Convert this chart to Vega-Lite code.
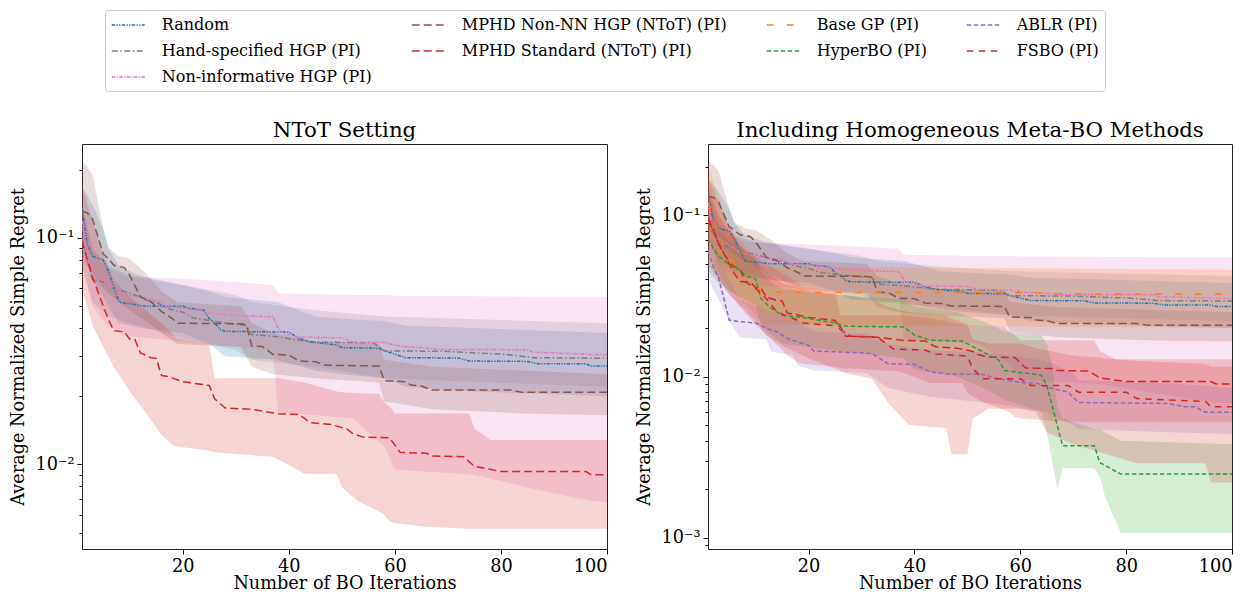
{
"$schema": "https://vega.github.io/schema/vega-lite/v6.json",
"background": "white",
"padding": {"left": 8, "top": 9, "right": 5, "bottom": 2},
"config": {
  "font": "DejaVu Serif",
  "style": {"guide-label": {"font": "DejaVu Serif"}, "guide-title": {"font": "DejaVu Serif"}},
  "text": {"font": "DejaVu Serif"},
  "view": {"stroke": "#222222", "strokeWidth": 1},
  "axis": {"labelFont": "DejaVu Serif", "titleFont": "DejaVu Serif", "labelFontSize": 17.7, "titleFontSize": 17.7, "titleFontWeight": "normal", "labelColor": "black", "titleColor": "black", "tickColor": "black", "domain": false, "grid": false, "tickSize": 5, "labelPadding": 3, "labelOverlap": false, "labelBound": false},
  "title": {"font": "DejaVu Serif", "fontSize": 21.3, "fontWeight": "normal", "color": "black", "offset": 3, "anchor": "middle"},
  "legend": {"labelFont": "DejaVu Serif", "labelFontSize": 16, "labelColor": "black", "labelOffset": 24.5, "rowPadding": 9, "columnPadding": 36, "padding": 6, "symbolOffset": 8.25, "strokeColor": "#cccccc", "cornerRadius": 3, "fillColor": "white", "labelLimit": 500, "gridAlign": "each"}
},
"spacing": 101,
"bounds": "flush",
"resolve": {"scale": {"color": "shared", "strokeDash": "shared", "fill": "shared"}, "legend": {"color": "shared", "strokeDash": "shared"}},
"datasets": {
"lines": [
{"s":"Random","x":1,"y":0.136},{"s":"Random","x":2,"y":0.094},{"s":"Random","x":3,"y":0.083},{"s":"Random","x":5,"y":0.080},{"s":"Random","x":6,"y":0.071},{"s":"Random","x":8,"y":0.052},{"s":"Random","x":13,"y":0.050},{"s":"Random","x":20,"y":0.050},{"s":"Random","x":21,"y":0.049},{"s":"Random","x":24,"y":0.048},{"s":"Random","x":25,"y":0.044},{"s":"Random","x":26,"y":0.0423},{"s":"Random","x":27,"y":0.0395},{"s":"Random","x":28,"y":0.0387},{"s":"Random","x":40,"y":0.0384},{"s":"Random","x":42,"y":0.036},{"s":"Random","x":44,"y":0.0347},{"s":"Random","x":49,"y":0.0337},{"s":"Random","x":50,"y":0.0328},{"s":"Random","x":57,"y":0.0326},{"s":"Random","x":58,"y":0.0318},{"s":"Random","x":62,"y":0.0296},{"s":"Random","x":72,"y":0.0295},{"s":"Random","x":74,"y":0.0286},{"s":"Random","x":85,"y":0.0285},{"s":"Random","x":87,"y":0.0278},{"s":"Random","x":96,"y":0.0278},{"s":"Random","x":97,"y":0.0272},{"s":"Random","x":100,"y":0.0272},
{"s":"Hand-specified HGP (PI)","x":1,"y":0.10},{"s":"Hand-specified HGP (PI)","x":2,"y":0.08},{"s":"Hand-specified HGP (PI)","x":3,"y":0.0652},{"s":"Hand-specified HGP (PI)","x":5,"y":0.064},{"s":"Hand-specified HGP (PI)","x":7,"y":0.059},{"s":"Hand-specified HGP (PI)","x":9,"y":0.058},{"s":"Hand-specified HGP (PI)","x":11,"y":0.056},{"s":"Hand-specified HGP (PI)","x":13,"y":0.0532},{"s":"Hand-specified HGP (PI)","x":15,"y":0.052},{"s":"Hand-specified HGP (PI)","x":17,"y":0.049},{"s":"Hand-specified HGP (PI)","x":18,"y":0.0482},{"s":"Hand-specified HGP (PI)","x":20,"y":0.047},{"s":"Hand-specified HGP (PI)","x":22,"y":0.0443},{"s":"Hand-specified HGP (PI)","x":26,"y":0.0428},{"s":"Hand-specified HGP (PI)","x":32,"y":0.041},{"s":"Hand-specified HGP (PI)","x":33,"y":0.0374},{"s":"Hand-specified HGP (PI)","x":38,"y":0.0366},{"s":"Hand-specified HGP (PI)","x":41,"y":0.0356},{"s":"Hand-specified HGP (PI)","x":45,"y":0.0347},{"s":"Hand-specified HGP (PI)","x":56,"y":0.0344},{"s":"Hand-specified HGP (PI)","x":58,"y":0.0317},{"s":"Hand-specified HGP (PI)","x":69,"y":0.0316},{"s":"Hand-specified HGP (PI)","x":81,"y":0.0306},{"s":"Hand-specified HGP (PI)","x":86,"y":0.0296},{"s":"Hand-specified HGP (PI)","x":100,"y":0.0294},
{"s":"Non-informative HGP (PI)","x":1,"y":0.119},{"s":"Non-informative HGP (PI)","x":2,"y":0.08},{"s":"Non-informative HGP (PI)","x":3,"y":0.072},{"s":"Non-informative HGP (PI)","x":5,"y":0.065},{"s":"Non-informative HGP (PI)","x":7,"y":0.059},{"s":"Non-informative HGP (PI)","x":11,"y":0.055},{"s":"Non-informative HGP (PI)","x":15,"y":0.0532},{"s":"Non-informative HGP (PI)","x":17,"y":0.0498},{"s":"Non-informative HGP (PI)","x":22,"y":0.0482},{"s":"Non-informative HGP (PI)","x":26,"y":0.0463},{"s":"Non-informative HGP (PI)","x":29,"y":0.0456},{"s":"Non-informative HGP (PI)","x":37,"y":0.0448},{"s":"Non-informative HGP (PI)","x":38,"y":0.04},{"s":"Non-informative HGP (PI)","x":39,"y":0.0378},{"s":"Non-informative HGP (PI)","x":42,"y":0.0365},{"s":"Non-informative HGP (PI)","x":50,"y":0.0362},{"s":"Non-informative HGP (PI)","x":52,"y":0.0347},{"s":"Non-informative HGP (PI)","x":58,"y":0.0345},{"s":"Non-informative HGP (PI)","x":61,"y":0.0333},{"s":"Non-informative HGP (PI)","x":69,"y":0.0322},{"s":"Non-informative HGP (PI)","x":85,"y":0.0321},{"s":"Non-informative HGP (PI)","x":86,"y":0.0313},{"s":"Non-informative HGP (PI)","x":97,"y":0.0306},{"s":"Non-informative HGP (PI)","x":100,"y":0.0305},
{"s":"MPHD Non-NN HGP (NToT) (PI)","x":1,"y":0.1315},{"s":"MPHD Non-NN HGP (NToT) (PI)","x":2,"y":0.129},{"s":"MPHD Non-NN HGP (NToT) (PI)","x":3,"y":0.121},{"s":"MPHD Non-NN HGP (NToT) (PI)","x":5,"y":0.085},{"s":"MPHD Non-NN HGP (NToT) (PI)","x":6,"y":0.081},{"s":"MPHD Non-NN HGP (NToT) (PI)","x":7,"y":0.0757},{"s":"MPHD Non-NN HGP (NToT) (PI)","x":9,"y":0.074},{"s":"MPHD Non-NN HGP (NToT) (PI)","x":10,"y":0.0684},{"s":"MPHD Non-NN HGP (NToT) (PI)","x":12,"y":0.055},{"s":"MPHD Non-NN HGP (NToT) (PI)","x":14,"y":0.0523},{"s":"MPHD Non-NN HGP (NToT) (PI)","x":16,"y":0.0473},{"s":"MPHD Non-NN HGP (NToT) (PI)","x":18,"y":0.0442},{"s":"MPHD Non-NN HGP (NToT) (PI)","x":19,"y":0.042},{"s":"MPHD Non-NN HGP (NToT) (PI)","x":31,"y":0.0418},{"s":"MPHD Non-NN HGP (NToT) (PI)","x":32,"y":0.0414},{"s":"MPHD Non-NN HGP (NToT) (PI)","x":33,"y":0.0333},{"s":"MPHD Non-NN HGP (NToT) (PI)","x":35,"y":0.0332},{"s":"MPHD Non-NN HGP (NToT) (PI)","x":37,"y":0.0306},{"s":"MPHD Non-NN HGP (NToT) (PI)","x":40,"y":0.0304},{"s":"MPHD Non-NN HGP (NToT) (PI)","x":42,"y":0.0286},{"s":"MPHD Non-NN HGP (NToT) (PI)","x":45,"y":0.0284},{"s":"MPHD Non-NN HGP (NToT) (PI)","x":47,"y":0.0274},{"s":"MPHD Non-NN HGP (NToT) (PI)","x":57,"y":0.0272},{"s":"MPHD Non-NN HGP (NToT) (PI)","x":58,"y":0.0234},{"s":"MPHD Non-NN HGP (NToT) (PI)","x":62,"y":0.0232},{"s":"MPHD Non-NN HGP (NToT) (PI)","x":63,"y":0.0224},{"s":"MPHD Non-NN HGP (NToT) (PI)","x":65,"y":0.0222},{"s":"MPHD Non-NN HGP (NToT) (PI)","x":67,"y":0.0213},{"s":"MPHD Non-NN HGP (NToT) (PI)","x":82,"y":0.0213},{"s":"MPHD Non-NN HGP (NToT) (PI)","x":84,"y":0.0208},{"s":"MPHD Non-NN HGP (NToT) (PI)","x":100,"y":0.0208},
{"s":"MPHD Standard (NToT) (PI)","x":1,"y":0.097},{"s":"MPHD Standard (NToT) (PI)","x":3,"y":0.067},{"s":"MPHD Standard (NToT) (PI)","x":5,"y":0.050},{"s":"MPHD Standard (NToT) (PI)","x":6,"y":0.0435},{"s":"MPHD Standard (NToT) (PI)","x":7,"y":0.0389},{"s":"MPHD Standard (NToT) (PI)","x":9,"y":0.0385},{"s":"MPHD Standard (NToT) (PI)","x":10,"y":0.0357},{"s":"MPHD Standard (NToT) (PI)","x":11,"y":0.0355},{"s":"MPHD Standard (NToT) (PI)","x":12,"y":0.0311},{"s":"MPHD Standard (NToT) (PI)","x":14,"y":0.0296},{"s":"MPHD Standard (NToT) (PI)","x":15,"y":0.0294},{"s":"MPHD Standard (NToT) (PI)","x":16,"y":0.0247},{"s":"MPHD Standard (NToT) (PI)","x":17,"y":0.0245},{"s":"MPHD Standard (NToT) (PI)","x":20,"y":0.0232},{"s":"MPHD Standard (NToT) (PI)","x":25,"y":0.0223},{"s":"MPHD Standard (NToT) (PI)","x":26,"y":0.0195},{"s":"MPHD Standard (NToT) (PI)","x":28,"y":0.01775},{"s":"MPHD Standard (NToT) (PI)","x":33,"y":0.0175},{"s":"MPHD Standard (NToT) (PI)","x":38,"y":0.01675},{"s":"MPHD Standard (NToT) (PI)","x":42,"y":0.0166},{"s":"MPHD Standard (NToT) (PI)","x":44,"y":0.0153},{"s":"MPHD Standard (NToT) (PI)","x":48,"y":0.015},{"s":"MPHD Standard (NToT) (PI)","x":51,"y":0.0143},{"s":"MPHD Standard (NToT) (PI)","x":52,"y":0.0137},{"s":"MPHD Standard (NToT) (PI)","x":54,"y":0.0132},{"s":"MPHD Standard (NToT) (PI)","x":59,"y":0.0131},{"s":"MPHD Standard (NToT) (PI)","x":61,"y":0.0113},{"s":"MPHD Standard (NToT) (PI)","x":66,"y":0.0112},{"s":"MPHD Standard (NToT) (PI)","x":67,"y":0.0109},{"s":"MPHD Standard (NToT) (PI)","x":73,"y":0.0108},{"s":"MPHD Standard (NToT) (PI)","x":75,"y":0.0098},{"s":"MPHD Standard (NToT) (PI)","x":77,"y":0.0096},{"s":"MPHD Standard (NToT) (PI)","x":80,"y":0.0093},{"s":"MPHD Standard (NToT) (PI)","x":96,"y":0.0093},{"s":"MPHD Standard (NToT) (PI)","x":97,"y":0.0090},{"s":"MPHD Standard (NToT) (PI)","x":100,"y":0.0090},
{"s":"Base GP (PI)","x":1,"y":0.12},{"s":"Base GP (PI)","x":2,"y":0.10},{"s":"Base GP (PI)","x":3,"y":0.075},{"s":"Base GP (PI)","x":4,"y":0.065},{"s":"Base GP (PI)","x":5,"y":0.057},{"s":"Base GP (PI)","x":7,"y":0.0448},{"s":"Base GP (PI)","x":9,"y":0.0398},{"s":"Base GP (PI)","x":11,"y":0.0336},{"s":"Base GP (PI)","x":12,"y":0.0333},{"s":"Base GP (PI)","x":66,"y":0.0331},{"s":"Base GP (PI)","x":67,"y":0.0326},{"s":"Base GP (PI)","x":100,"y":0.0324},
{"s":"HyperBO (PI)","x":1,"y":0.072},{"s":"HyperBO (PI)","x":2,"y":0.062},{"s":"HyperBO (PI)","x":3,"y":0.056},{"s":"HyperBO (PI)","x":5,"y":0.0493},{"s":"HyperBO (PI)","x":7,"y":0.0459},{"s":"HyperBO (PI)","x":8,"y":0.0423},{"s":"HyperBO (PI)","x":10,"y":0.0403},{"s":"HyperBO (PI)","x":11,"y":0.0305},{"s":"HyperBO (PI)","x":13,"y":0.0264},{"s":"HyperBO (PI)","x":15,"y":0.024},{"s":"HyperBO (PI)","x":19,"y":0.0232},{"s":"HyperBO (PI)","x":25,"y":0.0215},{"s":"HyperBO (PI)","x":27,"y":0.0205},{"s":"HyperBO (PI)","x":38,"y":0.0203},{"s":"HyperBO (PI)","x":40,"y":0.0181},{"s":"HyperBO (PI)","x":43,"y":0.0168},{"s":"HyperBO (PI)","x":49,"y":0.0166},{"s":"HyperBO (PI)","x":53,"y":0.0142},{"s":"HyperBO (PI)","x":56,"y":0.0126},{"s":"HyperBO (PI)","x":57,"y":0.0109},{"s":"HyperBO (PI)","x":64,"y":0.0102},{"s":"HyperBO (PI)","x":65,"y":0.0088},{"s":"HyperBO (PI)","x":68,"y":0.00372},{"s":"HyperBO (PI)","x":74,"y":0.00372},{"s":"HyperBO (PI)","x":75,"y":0.00293},{"s":"HyperBO (PI)","x":79,"y":0.00248},{"s":"HyperBO (PI)","x":100,"y":0.00248},
{"s":"ABLR (PI)","x":1,"y":0.06},{"s":"ABLR (PI)","x":2,"y":0.048},{"s":"ABLR (PI)","x":3,"y":0.0407},{"s":"ABLR (PI)","x":4,"y":0.0305},{"s":"ABLR (PI)","x":5,"y":0.0224},{"s":"ABLR (PI)","x":7,"y":0.0219},{"s":"ABLR (PI)","x":10,"y":0.0215},{"s":"ABLR (PI)","x":12,"y":0.0199},{"s":"ABLR (PI)","x":14,"y":0.019},{"s":"ABLR (PI)","x":16,"y":0.0172},{"s":"ABLR (PI)","x":20,"y":0.0156},{"s":"ABLR (PI)","x":21,"y":0.0144},{"s":"ABLR (PI)","x":26,"y":0.0142},{"s":"ABLR (PI)","x":32,"y":0.0139},{"s":"ABLR (PI)","x":35,"y":0.012},{"s":"ABLR (PI)","x":40,"y":0.0119},{"s":"ABLR (PI)","x":43,"y":0.0107},{"s":"ABLR (PI)","x":46,"y":0.0104},{"s":"ABLR (PI)","x":53,"y":0.0103},{"s":"ABLR (PI)","x":55,"y":0.0098},{"s":"ABLR (PI)","x":60,"y":0.0092},{"s":"ABLR (PI)","x":63,"y":0.0091},{"s":"ABLR (PI)","x":65,"y":0.0086},{"s":"ABLR (PI)","x":69,"y":0.0080},{"s":"ABLR (PI)","x":71,"y":0.0069},{"s":"ABLR (PI)","x":88,"y":0.0068},{"s":"ABLR (PI)","x":91,"y":0.0065},{"s":"ABLR (PI)","x":93,"y":0.0065},{"s":"ABLR (PI)","x":95,"y":0.0060},{"s":"ABLR (PI)","x":100,"y":0.0060},
{"s":"FSBO (PI)","x":1,"y":0.09},{"s":"FSBO (PI)","x":2,"y":0.083},{"s":"FSBO (PI)","x":3,"y":0.066},{"s":"FSBO (PI)","x":4,"y":0.058},{"s":"FSBO (PI)","x":5,"y":0.0516},{"s":"FSBO (PI)","x":6,"y":0.048},{"s":"FSBO (PI)","x":7,"y":0.047},{"s":"FSBO (PI)","x":8,"y":0.0388},{"s":"FSBO (PI)","x":10,"y":0.0352},{"s":"FSBO (PI)","x":12,"y":0.0305},{"s":"FSBO (PI)","x":14,"y":0.0252},{"s":"FSBO (PI)","x":17,"y":0.023},{"s":"FSBO (PI)","x":19,"y":0.0215},{"s":"FSBO (PI)","x":26,"y":0.0205},{"s":"FSBO (PI)","x":27,"y":0.0178},{"s":"FSBO (PI)","x":33,"y":0.0176},{"s":"FSBO (PI)","x":36,"y":0.0148},{"s":"FSBO (PI)","x":42,"y":0.0146},{"s":"FSBO (PI)","x":44,"y":0.0138},{"s":"FSBO (PI)","x":50,"y":0.0134},{"s":"FSBO (PI)","x":51,"y":0.0112},{"s":"FSBO (PI)","x":53,"y":0.0097},{"s":"FSBO (PI)","x":60,"y":0.0097},{"s":"FSBO (PI)","x":62,"y":0.0088},{"s":"FSBO (PI)","x":69,"y":0.0088},{"s":"FSBO (PI)","x":71,"y":0.0080},{"s":"FSBO (PI)","x":80,"y":0.0080},{"s":"FSBO (PI)","x":82,"y":0.0073},{"s":"FSBO (PI)","x":95,"y":0.0070},{"s":"FSBO (PI)","x":96,"y":0.0065},{"s":"FSBO (PI)","x":100,"y":0.0065}
],
"bands": [
{"s":"Random","x":1,"hi":0.17,"lo":0.09},{"s":"Random","x":3,"hi":0.14,"lo":0.065},{"s":"Random","x":5,"hi":0.11,"lo":0.055},{"s":"Random","x":6,"hi":0.09,"lo":0.05},{"s":"Random","x":8,"hi":0.075,"lo":0.042},{"s":"Random","x":12,"hi":0.068,"lo":0.04},{"s":"Random","x":20,"hi":0.062,"lo":0.038},{"s":"Random","x":25,"hi":0.058,"lo":0.034},{"s":"Random","x":28,"hi":0.055,"lo":0.03},{"s":"Random","x":38,"hi":0.052,"lo":0.029},{"s":"Random","x":40,"hi":0.05,"lo":0.028},{"s":"Random","x":45,"hi":0.045,"lo":0.026},{"s":"Random","x":50,"hi":0.044,"lo":0.025},{"s":"Random","x":58,"hi":0.043,"lo":0.024},{"s":"Random","x":62,"hi":0.041,"lo":0.022},{"s":"Random","x":75,"hi":0.04,"lo":0.021},{"s":"Random","x":87,"hi":0.039,"lo":0.0205},{"s":"Random","x":100,"hi":0.038,"lo":0.02},
{"s":"Hand-specified HGP (PI)","x":1,"hi":0.14,"lo":0.075},{"s":"Hand-specified HGP (PI)","x":3,"hi":0.09,"lo":0.052},{"s":"Hand-specified HGP (PI)","x":6,"hi":0.075,"lo":0.045},{"s":"Hand-specified HGP (PI)","x":10,"hi":0.068,"lo":0.042},{"s":"Hand-specified HGP (PI)","x":20,"hi":0.062,"lo":0.036},{"s":"Hand-specified HGP (PI)","x":30,"hi":0.056,"lo":0.032},{"s":"Hand-specified HGP (PI)","x":33,"hi":0.052,"lo":0.029},{"s":"Hand-specified HGP (PI)","x":45,"hi":0.048,"lo":0.027},{"s":"Hand-specified HGP (PI)","x":58,"hi":0.045,"lo":0.024},{"s":"Hand-specified HGP (PI)","x":100,"hi":0.042,"lo":0.022},
{"s":"Non-informative HGP (PI)","x":1,"hi":0.14,"lo":0.075},{"s":"Non-informative HGP (PI)","x":3,"hi":0.09,"lo":0.05},{"s":"Non-informative HGP (PI)","x":5,"hi":0.075,"lo":0.043},{"s":"Non-informative HGP (PI)","x":9,"hi":0.068,"lo":0.037},{"s":"Non-informative HGP (PI)","x":25,"hi":0.065,"lo":0.034},{"s":"Non-informative HGP (PI)","x":37,"hi":0.062,"lo":0.032},{"s":"Non-informative HGP (PI)","x":38,"hi":0.057,"lo":0.017},{"s":"Non-informative HGP (PI)","x":52,"hi":0.056,"lo":0.016},{"s":"Non-informative HGP (PI)","x":58,"hi":0.056,"lo":0.012},{"s":"Non-informative HGP (PI)","x":60,"hi":0.0555,"lo":0.0095},{"s":"Non-informative HGP (PI)","x":75,"hi":0.0553,"lo":0.009},{"s":"Non-informative HGP (PI)","x":86,"hi":0.055,"lo":0.0078},{"s":"Non-informative HGP (PI)","x":97,"hi":0.055,"lo":0.0069},{"s":"Non-informative HGP (PI)","x":100,"hi":0.055,"lo":0.0068},
{"s":"MPHD Non-NN HGP (NToT) (PI)","x":1,"hi":0.22,"lo":0.08},{"s":"MPHD Non-NN HGP (NToT) (PI)","x":3,"hi":0.19,"lo":0.07},{"s":"MPHD Non-NN HGP (NToT) (PI)","x":5,"hi":0.11,"lo":0.06},{"s":"MPHD Non-NN HGP (NToT) (PI)","x":6,"hi":0.09,"lo":0.057},{"s":"MPHD Non-NN HGP (NToT) (PI)","x":8,"hi":0.083,"lo":0.052},{"s":"MPHD Non-NN HGP (NToT) (PI)","x":10,"hi":0.081,"lo":0.048},{"s":"MPHD Non-NN HGP (NToT) (PI)","x":13,"hi":0.07,"lo":0.043},{"s":"MPHD Non-NN HGP (NToT) (PI)","x":16,"hi":0.058,"lo":0.038},{"s":"MPHD Non-NN HGP (NToT) (PI)","x":19,"hi":0.052,"lo":0.034},{"s":"MPHD Non-NN HGP (NToT) (PI)","x":31,"hi":0.05,"lo":0.033},{"s":"MPHD Non-NN HGP (NToT) (PI)","x":33,"hi":0.042,"lo":0.027},{"s":"MPHD Non-NN HGP (NToT) (PI)","x":37,"hi":0.038,"lo":0.025},{"s":"MPHD Non-NN HGP (NToT) (PI)","x":45,"hi":0.035,"lo":0.024},{"s":"MPHD Non-NN HGP (NToT) (PI)","x":57,"hi":0.034,"lo":0.023},{"s":"MPHD Non-NN HGP (NToT) (PI)","x":58,"hi":0.029,"lo":0.019},{"s":"MPHD Non-NN HGP (NToT) (PI)","x":67,"hi":0.027,"lo":0.0175},{"s":"MPHD Non-NN HGP (NToT) (PI)","x":84,"hi":0.026,"lo":0.0168},{"s":"MPHD Non-NN HGP (NToT) (PI)","x":100,"hi":0.025,"lo":0.0165},
{"s":"MPHD Standard (NToT) (PI)","x":1,"hi":0.17,"lo":0.06},{"s":"MPHD Standard (NToT) (PI)","x":3,"hi":0.12,"lo":0.041},{"s":"MPHD Standard (NToT) (PI)","x":5,"hi":0.085,"lo":0.033},{"s":"MPHD Standard (NToT) (PI)","x":7,"hi":0.065,"lo":0.027},{"s":"MPHD Standard (NToT) (PI)","x":10,"hi":0.055,"lo":0.021},{"s":"MPHD Standard (NToT) (PI)","x":13,"hi":0.048,"lo":0.017},{"s":"MPHD Standard (NToT) (PI)","x":16,"hi":0.042,"lo":0.0135},{"s":"MPHD Standard (NToT) (PI)","x":18,"hi":0.038,"lo":0.0122},{"s":"MPHD Standard (NToT) (PI)","x":19,"hi":0.036,"lo":0.012},{"s":"MPHD Standard (NToT) (PI)","x":25,"hi":0.034,"lo":0.0115},{"s":"MPHD Standard (NToT) (PI)","x":26,"hi":0.024,"lo":0.0113},{"s":"MPHD Standard (NToT) (PI)","x":37,"hi":0.024,"lo":0.0108},{"s":"MPHD Standard (NToT) (PI)","x":38,"hi":0.024,"lo":0.0105},{"s":"MPHD Standard (NToT) (PI)","x":43,"hi":0.023,"lo":0.0091},{"s":"MPHD Standard (NToT) (PI)","x":49,"hi":0.021,"lo":0.0091},{"s":"MPHD Standard (NToT) (PI)","x":50,"hi":0.0208,"lo":0.0079},{"s":"MPHD Standard (NToT) (PI)","x":53,"hi":0.0206,"lo":0.0069},{"s":"MPHD Standard (NToT) (PI)","x":57,"hi":0.0205,"lo":0.0062},{"s":"MPHD Standard (NToT) (PI)","x":58,"hi":0.0188,"lo":0.006},{"s":"MPHD Standard (NToT) (PI)","x":59,"hi":0.018,"lo":0.0056},{"s":"MPHD Standard (NToT) (PI)","x":60,"hi":0.0168,"lo":0.0055},{"s":"MPHD Standard (NToT) (PI)","x":66,"hi":0.0168,"lo":0.0053},{"s":"MPHD Standard (NToT) (PI)","x":74,"hi":0.0168,"lo":0.0052},{"s":"MPHD Standard (NToT) (PI)","x":75,"hi":0.0144,"lo":0.0052},{"s":"MPHD Standard (NToT) (PI)","x":78,"hi":0.0128,"lo":0.0052},{"s":"MPHD Standard (NToT) (PI)","x":100,"hi":0.0128,"lo":0.0052},
{"s":"Base GP (PI)","x":1,"hi":0.2,"lo":0.075},{"s":"Base GP (PI)","x":3,"hi":0.13,"lo":0.045},{"s":"Base GP (PI)","x":5,"hi":0.085,"lo":0.035},{"s":"Base GP (PI)","x":8,"hi":0.065,"lo":0.028},{"s":"Base GP (PI)","x":11,"hi":0.05,"lo":0.022},{"s":"Base GP (PI)","x":12,"hi":0.048,"lo":0.021},{"s":"Base GP (PI)","x":100,"hi":0.046,"lo":0.02},
{"s":"HyperBO (PI)","x":1,"hi":0.1,"lo":0.045},{"s":"HyperBO (PI)","x":3,"hi":0.08,"lo":0.038},{"s":"HyperBO (PI)","x":5,"hi":0.07,"lo":0.034},{"s":"HyperBO (PI)","x":8,"hi":0.06,"lo":0.03},{"s":"HyperBO (PI)","x":10,"hi":0.055,"lo":0.028},{"s":"HyperBO (PI)","x":11,"hi":0.045,"lo":0.021},{"s":"HyperBO (PI)","x":13,"hi":0.038,"lo":0.018},{"s":"HyperBO (PI)","x":15,"hi":0.035,"lo":0.016},{"s":"HyperBO (PI)","x":25,"hi":0.032,"lo":0.0145},{"s":"HyperBO (PI)","x":38,"hi":0.03,"lo":0.013},{"s":"HyperBO (PI)","x":40,"hi":0.027,"lo":0.011},{"s":"HyperBO (PI)","x":48,"hi":0.025,"lo":0.01},{"s":"HyperBO (PI)","x":53,"hi":0.022,"lo":0.0085},{"s":"HyperBO (PI)","x":57,"hi":0.019,"lo":0.0072},{"s":"HyperBO (PI)","x":64,"hi":0.018,"lo":0.006},{"s":"HyperBO (PI)","x":65,"hi":0.016,"lo":0.0045},{"s":"HyperBO (PI)","x":66,"hi":0.012,"lo":0.003},{"s":"HyperBO (PI)","x":67,"hi":0.0065,"lo":0.002},{"s":"HyperBO (PI)","x":68,"hi":0.0055,"lo":0.0027},{"s":"HyperBO (PI)","x":74,"hi":0.0047,"lo":0.0027},{"s":"HyperBO (PI)","x":75,"hi":0.0047,"lo":0.0024},{"s":"HyperBO (PI)","x":76,"hi":0.0045,"lo":0.0018},{"s":"HyperBO (PI)","x":79,"hi":0.004,"lo":0.00107},{"s":"HyperBO (PI)","x":100,"hi":0.0038,"lo":0.00107},
{"s":"ABLR (PI)","x":1,"hi":0.08,"lo":0.04},{"s":"ABLR (PI)","x":3,"hi":0.055,"lo":0.03},{"s":"ABLR (PI)","x":5,"hi":0.04,"lo":0.022},{"s":"ABLR (PI)","x":7,"hi":0.03,"lo":0.0175},{"s":"ABLR (PI)","x":12,"hi":0.026,"lo":0.017},{"s":"ABLR (PI)","x":13,"hi":0.025,"lo":0.0142},{"s":"ABLR (PI)","x":17,"hi":0.023,"lo":0.0136},{"s":"ABLR (PI)","x":18,"hi":0.022,"lo":0.0117},{"s":"ABLR (PI)","x":21,"hi":0.019,"lo":0.0109},{"s":"ABLR (PI)","x":31,"hi":0.0185,"lo":0.0105},{"s":"ABLR (PI)","x":35,"hi":0.016,"lo":0.0085},{"s":"ABLR (PI)","x":43,"hi":0.0145,"lo":0.0075},{"s":"ABLR (PI)","x":55,"hi":0.014,"lo":0.0068},{"s":"ABLR (PI)","x":65,"hi":0.0125,"lo":0.006},{"s":"ABLR (PI)","x":70,"hi":0.0105,"lo":0.005},{"s":"ABLR (PI)","x":71,"hi":0.0095,"lo":0.0047},{"s":"ABLR (PI)","x":90,"hi":0.009,"lo":0.0045},{"s":"ABLR (PI)","x":100,"hi":0.0085,"lo":0.0044},
{"s":"FSBO (PI)","x":1,"hi":0.15,"lo":0.05},{"s":"FSBO (PI)","x":3,"hi":0.1,"lo":0.04},{"s":"FSBO (PI)","x":5,"hi":0.08,"lo":0.032},{"s":"FSBO (PI)","x":8,"hi":0.06,"lo":0.026},{"s":"FSBO (PI)","x":10,"hi":0.052,"lo":0.022},{"s":"FSBO (PI)","x":12,"hi":0.045,"lo":0.018},{"s":"FSBO (PI)","x":15,"hi":0.038,"lo":0.0155},{"s":"FSBO (PI)","x":20,"hi":0.034,"lo":0.013},{"s":"FSBO (PI)","x":27,"hi":0.032,"lo":0.0105},{"s":"FSBO (PI)","x":32,"hi":0.03,"lo":0.0097},{"s":"FSBO (PI)","x":35,"hi":0.027,"lo":0.0069},{"s":"FSBO (PI)","x":39,"hi":0.025,"lo":0.005},{"s":"FSBO (PI)","x":46,"hi":0.024,"lo":0.0048},{"s":"FSBO (PI)","x":47,"hi":0.023,"lo":0.0033},{"s":"FSBO (PI)","x":50,"hi":0.021,"lo":0.0033},{"s":"FSBO (PI)","x":51,"hi":0.017,"lo":0.0055},{"s":"FSBO (PI)","x":54,"hi":0.016,"lo":0.0063},{"s":"FSBO (PI)","x":60,"hi":0.016,"lo":0.0063},{"s":"FSBO (PI)","x":63,"hi":0.015,"lo":0.006},{"s":"FSBO (PI)","x":65,"hi":0.0145,"lo":0.0045},{"s":"FSBO (PI)","x":70,"hi":0.0135,"lo":0.0038},{"s":"FSBO (PI)","x":82,"hi":0.0125,"lo":0.0029},{"s":"FSBO (PI)","x":95,"hi":0.012,"lo":0.0029},{"s":"FSBO (PI)","x":96,"hi":0.0115,"lo":0.0022},{"s":"FSBO (PI)","x":100,"hi":0.0115,"lo":0.0022}
]
},
"hconcat": [
{
 "width": 525, "height": 405,
 "title": {"text": "NToT Setting"},
 "layer": [
  {"data": {"name": "bands"},
   "transform": [{"filter": {"field": "s", "oneOf": ["Random", "Hand-specified HGP (PI)", "Non-informative HGP (PI)", "MPHD Non-NN HGP (NToT) (PI)", "MPHD Standard (NToT) (PI)"]}}],
   "mark": {"type": "area", "opacity": 0.2, "clip": true},
   "encoding": {
    "x": {"field": "x", "type": "quantitative", "scale": {"domain": [1, 100], "nice": false, "zero": false}, "axis": {"values": [20, 40, 60, 80, 100], "title": "Number of BO Iterations", "titlePadding": 0}},
    "y": {"field": "hi", "type": "quantitative", "scale": {"type": "log", "domain": [0.00423, 0.26], "nice": false}, "axis": {"title": "Average Normalized Simple Regret", "titlePadding": 8, "values": [0.005, 0.006, 0.007, 0.008, 0.009, 0.01, 0.02, 0.03, 0.04, 0.05, 0.06, 0.07, 0.08, 0.09, 0.1, 0.2], "labelExpr": "datum.value == 0.1 ? '10⁻¹' : datum.value == 0.01 ? '10⁻²' : datum.value == 0.001 ? '10⁻³' : ''", "tickSize": {"condition": {"test": "datum.value == 0.1 || datum.value == 0.01 || datum.value == 0.001", "value": 5}, "value": 3}}},
    "y2": {"field": "lo"},
    "fill": {"field": "s", "type": "nominal", "scale": {"domain": ["Random", "Hand-specified HGP (PI)", "Non-informative HGP (PI)", "MPHD Non-NN HGP (NToT) (PI)", "MPHD Standard (NToT) (PI)", "Base GP (PI)", "HyperBO (PI)", "ABLR (PI)", "FSBO (PI)"], "range": ["#1f77b4", "#7f7f7f", "#e377c2", "#8c564b", "#d62728", "#ff7f0e", "#2ca02c", "#9467bd", "#d62728"]}, "legend": null}
   }},
  {"data": {"name": "lines"},
   "transform": [{"filter": {"field": "s", "oneOf": ["Random", "Hand-specified HGP (PI)", "Non-informative HGP (PI)", "MPHD Non-NN HGP (NToT) (PI)", "MPHD Standard (NToT) (PI)"]}}],
   "mark": {"type": "line", "strokeWidth": 1.5, "clip": true},
   "encoding": {
    "x": {"field": "x", "type": "quantitative"},
    "y": {"field": "y", "type": "quantitative"},
    "color": {"field": "s", "type": "nominal", "scale": {"domain": ["Random", "MPHD Non-NN HGP (NToT) (PI)", "Base GP (PI)", "ABLR (PI)", "Hand-specified HGP (PI)", "MPHD Standard (NToT) (PI)", "HyperBO (PI)", "FSBO (PI)", "Non-informative HGP (PI)"], "range": ["#1f77b4", "#8c564b", "#ff7f0e", "#9467bd", "#7f7f7f", "#d62728", "#2ca02c", "#d62728", "#e377c2"]}, "legend": {"title": null, "orient": "none", "direction": "horizontal", "legendX": 23, "legendY": -134, "columns": 4, "symbolType": "M-2,0H2", "symbolSize": 272, "symbolOffset": 8.25, "symbolStrokeWidth": 1.5, "labelFont": "DejaVu Serif", "labelFontSize": 16, "labelColor": "black", "labelOffset": 24.5, "columnPadding": 36, "rowPadding": 9, "padding": 6, "strokeColor": "#cccccc", "cornerRadius": 3, "fillColor": "white", "labelLimit": 500, "gridAlign": "each"}},
    "strokeDash": {"field": "s", "type": "nominal", "scale": {"domain": ["Random", "MPHD Non-NN HGP (NToT) (PI)", "Base GP (PI)", "ABLR (PI)", "Hand-specified HGP (PI)", "MPHD Standard (NToT) (PI)", "HyperBO (PI)", "FSBO (PI)", "Non-informative HGP (PI)"], "range": [[3.5, 1.3, 1.3, 1.3, 1.3, 1.3], [8, 4], [6.7, 13.3], [4.5, 2.5], [6, 2.5, 1.5, 2.5], [8, 4], [4.5, 2.5], [6.5, 5.5], [3.5, 1.3, 1.3, 1.3]]}, "legend": {"title": null, "orient": "none", "direction": "horizontal", "legendX": 23, "legendY": -134, "columns": 4, "symbolType": "M-2,0H2", "symbolSize": 272, "symbolOffset": 8.25, "symbolStrokeWidth": 1.5, "labelFont": "DejaVu Serif", "labelFontSize": 16, "labelColor": "black", "labelOffset": 24.5, "columnPadding": 36, "rowPadding": 9, "padding": 6, "strokeColor": "#cccccc", "cornerRadius": 3, "fillColor": "white", "labelLimit": 500, "gridAlign": "each"}}
   }}
 ]
},
{
 "width": 524, "height": 405,
 "title": {"text": "Including Homogeneous Meta-BO Methods"},
 "layer": [
  {"data": {"name": "bands"},
   "mark": {"type": "area", "opacity": 0.2, "clip": true},
   "encoding": {
    "x": {"field": "x", "type": "quantitative", "scale": {"domain": [1, 100], "nice": false, "zero": false}, "axis": {"values": [20, 40, 60, 80, 100], "title": "Number of BO Iterations", "titlePadding": 0}},
    "y": {"field": "hi", "type": "quantitative", "scale": {"type": "log", "domain": [0.000851, 0.277], "nice": false}, "axis": {"title": "Average Normalized Simple Regret", "titlePadding": 8, "values": [0.0009, 0.001, 0.002, 0.003, 0.004, 0.005, 0.006, 0.007, 0.008, 0.009, 0.01, 0.02, 0.03, 0.04, 0.05, 0.06, 0.07, 0.08, 0.09, 0.1, 0.2], "labelExpr": "datum.value == 0.1 ? '10⁻¹' : datum.value == 0.01 ? '10⁻²' : datum.value == 0.001 ? '10⁻³' : ''", "tickSize": {"condition": {"test": "datum.value == 0.1 || datum.value == 0.01 || datum.value == 0.001", "value": 5}, "value": 3}}},
    "y2": {"field": "lo"},
    "fill": {"field": "s", "type": "nominal", "scale": {"domain": ["Random", "Hand-specified HGP (PI)", "Non-informative HGP (PI)", "MPHD Non-NN HGP (NToT) (PI)", "MPHD Standard (NToT) (PI)", "Base GP (PI)", "HyperBO (PI)", "ABLR (PI)", "FSBO (PI)"], "range": ["#1f77b4", "#7f7f7f", "#e377c2", "#8c564b", "#d62728", "#ff7f0e", "#2ca02c", "#9467bd", "#d62728"]}, "legend": null}
   }},
  {"data": {"name": "lines"},
   "mark": {"type": "line", "strokeWidth": 1.5, "clip": true},
   "encoding": {
    "x": {"field": "x", "type": "quantitative"},
    "y": {"field": "y", "type": "quantitative"},
    "color": {"field": "s", "type": "nominal", "scale": {"domain": ["Random", "MPHD Non-NN HGP (NToT) (PI)", "Base GP (PI)", "ABLR (PI)", "Hand-specified HGP (PI)", "MPHD Standard (NToT) (PI)", "HyperBO (PI)", "FSBO (PI)", "Non-informative HGP (PI)"], "range": ["#1f77b4", "#8c564b", "#ff7f0e", "#9467bd", "#7f7f7f", "#d62728", "#2ca02c", "#d62728", "#e377c2"]}},
    "strokeDash": {"field": "s", "type": "nominal", "scale": {"domain": ["Random", "MPHD Non-NN HGP (NToT) (PI)", "Base GP (PI)", "ABLR (PI)", "Hand-specified HGP (PI)", "MPHD Standard (NToT) (PI)", "HyperBO (PI)", "FSBO (PI)", "Non-informative HGP (PI)"], "range": [[3.5, 1.3, 1.3, 1.3, 1.3, 1.3], [8, 4], [6.7, 13.3], [4.5, 2.5], [6, 2.5, 1.5, 2.5], [8, 4], [4.5, 2.5], [6.5, 5.5], [3.5, 1.3, 1.3, 1.3]]}}
   }}
 ]
}
]
}
